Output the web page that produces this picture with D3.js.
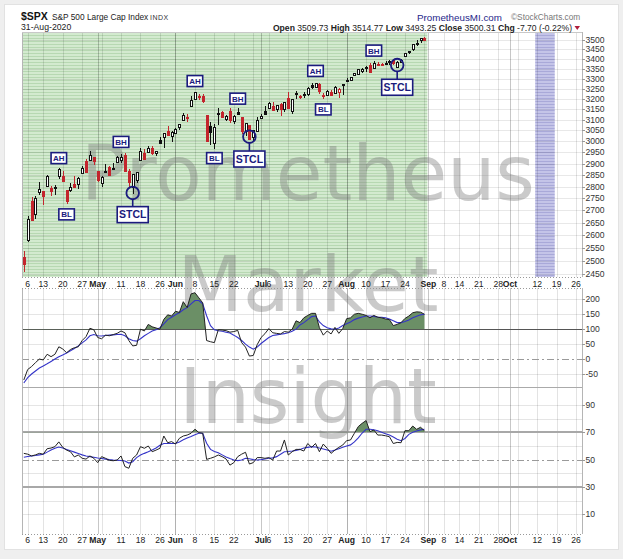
<!DOCTYPE html>
<html><head><meta charset="utf-8">
<script src="https://cdn.jsdelivr.net/npm/d3@7/dist/d3.min.js"></script>
<style>
html,body{margin:0;padding:0;background:#efefef;}
svg{display:block;font-family:"Liberation Sans",Arial,sans-serif;}
</style></head><body>
<svg id="c" width="623" height="559"></svg>
<script>
// ---------------- DATA ----------------
const startDate = "2020-04-03";
const endDate = "2020-08-31";
const prevClose = 2526.90;
const openVals = [2514.92,2578.28,2738.65,2685.00,2776.99,2782.46,2805.10,2795.64,2799.34,2842.43,2845.62,2784.81,2787.89,2810.42,2812.64,2854.65,2909.96,2918.46,2930.91,
2869.09,2815.01,2868.88,2883.14,2878.26,2908.83,2915.46,2939.50,2865.86,2794.54,2829.95,2913.86,2948.59,2953.63,2969.95,2948.05,3004.08,3015.65,3046.61,3025.17,
3038.78,3064.78,3098.90,3111.56,3163.84,3199.92,3213.32,3213.42,3123.53,3071.04,2993.76,3131.00,3136.13,3101.64,3140.29,3094.42,3138.70,3114.40,3046.60,3073.20,3018.59,3050.20,
3105.92,3143.64,3155.29,3166.44,3153.07,3176.17,3152.47,3205.08,3141.11,3225.98,3208.36,3224.21,3224.29,3268.52,3254.86,3271.64,3218.58,3219.84,3234.27,3227.22,3231.76,3270.45,
3288.26,3289.92,3317.37,3323.17,3340.05,3356.04,3370.34,3355.46,3372.95,3368.66,3380.86,3387.04,3392.51,3360.48,3386.01,3418.09,3435.95,3449.97,3485.14,3494.69,3509.73];
const highVals = [2538.18,2676.85,2756.89,2760.75,2818.57,2782.46,2851.85,2801.88,2806.51,2879.22,2868.98,2785.54,2815.10,2844.90,2842.71,2887.72,2921.15,2954.86,2930.91,
2869.09,2844.24,2898.23,2891.11,2901.92,2932.16,2944.25,2945.82,2874.14,2852.80,2865.01,2968.09,2964.21,2980.29,2978.50,2956.76,3021.72,3036.25,3068.67,3049.17,
3062.18,3081.07,3130.94,3128.91,3211.72,3233.13,3222.71,3223.27,3123.53,3088.42,3079.76,3153.45,3141.16,3120.00,3155.53,3120.92,3154.90,3115.01,3086.25,3073.73,3053.89,3111.51,
3128.44,3165.81,3182.59,3184.15,3171.80,3179.78,3186.82,3235.32,3200.95,3238.28,3220.39,3233.52,3258.61,3277.29,3279.32,3279.99,3227.26,3241.43,3243.72,3264.74,3250.92,3272.17,
3302.73,3306.84,3330.77,3351.03,3352.54,3363.29,3381.01,3387.89,3387.24,3378.51,3387.59,3395.06,3399.54,3390.80,3399.96,3432.09,3444.21,3481.07,3501.38,3509.23,3514.77];
const lowVals = [2459.96,2574.57,2657.67,2663.30,2762.36,2721.17,2805.10,2761.54,2764.32,2830.88,2820.43,2727.10,2775.95,2794.26,2791.76,2852.89,2860.71,2912.16,2892.47,
2821.61,2797.85,2863.55,2847.65,2876.48,2902.88,2903.44,2869.59,2793.15,2766.64,2816.78,2913.86,2922.35,2953.63,2938.57,2933.59,2988.17,2969.75,3023.40,2998.61,
3031.54,3051.64,3098.90,3090.41,3163.84,3196.00,3193.11,3181.49,2999.49,2984.47,2965.66,3076.06,3108.03,3093.51,3083.11,3079.39,3127.12,3032.13,3024.01,3004.63,2999.74,3047.83,
3101.17,3124.52,3155.29,3142.93,3136.53,3115.70,3136.22,3149.43,3127.66,3200.76,3198.59,3205.65,3215.16,3247.77,3253.10,3222.66,3200.05,3214.25,3216.17,3227.22,3204.13,3220.26,
3284.53,3286.37,3317.37,3318.14,3328.72,3335.44,3326.44,3355.46,3363.35,3361.64,3379.22,3370.15,3369.66,3354.69,3379.31,3413.13,3425.84,3444.15,3468.35,3484.32,3493.25];
const closeVals = [2488.65,2663.68,2659.41,2749.98,2789.82,2761.63,2846.06,2783.36,2799.55,2874.56,2823.16,2736.56,2799.31,2797.80,2836.74,2878.48,2863.39,2939.51,2912.43,
2830.71,2842.74,2868.44,2848.42,2881.19,2929.80,2930.32,2870.12,2820.00,2852.50,2863.70,2953.91,2922.94,2971.61,2948.51,2955.45,2991.77,3036.13,3029.73,3044.31,
3055.73,3080.82,3122.87,3112.35,3193.93,3232.39,3207.18,3190.14,3002.10,3041.31,3066.59,3124.74,3113.49,3115.34,3097.74,3117.86,3131.29,3050.33,3083.76,3009.05,3053.24,3100.29,
3115.86,3130.01,3179.72,3145.32,3169.94,3152.05,3185.04,3155.22,3197.52,3226.56,3215.57,3224.73,3251.84,3257.30,3276.02,3235.66,3215.63,3239.41,3218.44,3258.44,3246.22,3271.12,
3294.61,3306.51,3327.77,3349.16,3351.28,3360.47,3333.69,3380.35,3373.43,3372.85,3381.99,3389.78,3374.85,3385.51,3397.16,3431.28,3443.62,3478.73,3484.55,3508.01,3500.31];

// middle oscillator (black) and its signal (blue)
const oscVals = [-70,-35,-25,-12,0,-3,16,8,16,41,34,21,32,38,41,62,75,103,98,72,68,80,78,82,86,94,88,62,44,46,100,94,116,108,104,100,133,148,144,160,156,192,172,218,222,205,188,62,58,55,98,97,95,90,92,96,55,40,10,12,48,72,85,102,88,86,84,92,90,100,128,122,138,146,153,153,105,80,94,84,106,86,102,135,138,150,153,150,146,138,146,140,138,134,132,112,116,122,136,144,155,158,157,150];
const oscSignal = [-80,-62,-50,-40,-30,-23,-16,-8,0,8,14,20,28,35,44,54,64,78,82,78,77,79,80,81,82,83,78,68,62,60,68,78,86,94,98,105,118,132,140,148,155,165,172,185,196,196,185,145,112,98,95,93,90,87,80,72,62,50,40,33,40,52,62,72,79,81,83,85,88,93,100,114,122,132,142,144,124,112,105,101,100,104,112,118,124,132,137,141,144,144,143,141,140,138,134,128,122,122,126,131,138,143,148,150];
// lower oscillator (RSI-type) and its signal
const rsiVals = [54.6,54,52.7,53.5,54.6,54,58,58.5,59.5,63,59,57,55.8,52,53.4,51,50.4,52.7,51,47.8,52.2,51,49.5,49.2,49.7,52.7,44.9,43.7,51,53.4,59.5,58.3,60,55.8,57,58.3,67.3,62.4,63.2,61.4,65.6,67.3,68,69.3,72.3,69.8,69.3,50.2,51,52,53.4,52.2,50.5,46,47.8,52.2,54,55.4,46.8,47.8,51.5,51.5,51,51.5,49.7,56.3,56.3,64.4,53.4,55.8,57.5,57.5,56.3,61.8,59,61.8,55.8,61.4,58.3,54.6,57,59,60.7,63.9,64.4,69.3,74.2,76.6,78.6,70.5,71.7,68,68,67.5,66.8,61.8,62.6,62.4,71.2,71.2,74.6,72.2,73.7,71.2];
const rsiSignal = [51.7,52.3,52.7,53,53.5,54,55.5,57,58.3,59.2,58.5,57.5,56.5,55.5,54.5,53.5,52.7,52.2,51.8,51.2,50.8,50.4,50,49.7,49.6,49.4,49,47.5,48.5,51.5,53.4,54.6,55.7,57,58.5,60.5,61.8,61.8,61.8,61.8,63,64.5,65.8,67,68.3,69.3,69.3,62,57.5,56,55,53.5,52,50.8,49.8,49.3,49.8,51,50.6,50,49.7,50,50.5,51,51.3,52.2,54,55.8,56,56.3,56.8,57.5,58.5,59,59.5,59.3,58.5,57.8,57,56.2,57,58,59,60,60.8,63,66,69.5,72.2,72.3,71.9,71.2,70,69,68,66.5,65,63.9,65.5,68.5,70,71,71.8,72.2];

const priceTicks = [3500,3450,3400,3350,3300,3250,3200,3150,3100,3050,3000,2950,2900,2850,2800,2750,2700,2650,2600,2550,2500,2450];
const oscTicks = [200,150,100,50,0,-50];
const rsiTicks = [90,70,50,30,10];
const rsiGrid = [90,80,60,40,20,10];

const xTickDates = ["2020-04-06","2020-04-13","2020-04-20","2020-04-27","2020-05-01","2020-05-11","2020-05-18","2020-05-26","2020-06-01","2020-06-08","2020-06-15","2020-06-22","2020-07-01","2020-07-06","2020-07-13","2020-07-20","2020-07-27","2020-08-03","2020-08-10","2020-08-17","2020-08-24","2020-09-01","2020-09-08","2020-09-14","2020-09-21","2020-09-28","2020-10-01","2020-10-12","2020-10-19","2020-10-26"];
const xTickLabels = ["6","13","20","27","May","11","18","26","Jun","8","15","22","Jul","6","13","20","27","Aug","10","17","24","Sep","8","14","21","28","Oct","12","19","26"];
const holidays = ["2020-04-10","2020-05-25","2020-07-03","2020-09-07"];
const highlightWeek = ["2020-10-12","2020-10-16"];

const labelNames = ["AH","BL","BH","STCL","AH","BL","BH","STCL","AH","BL","BH","STCL"];
const labelDates = ["2020-04-17","2020-04-21","2020-05-11","2020-05-14","2020-06-08","2020-06-15","2020-06-23","2020-06-26","2020-07-22","2020-07-24","2020-08-12","2020-08-20"];
const labelPrices = [2924,2684,2997,2683,3288,2924,3201,2920,3339,3149,3444,3257];
const circleDates = ["2020-05-14","2020-06-26","2020-08-20"];
const circlePrices = [2773,3021,3369];

// ---------------- SETUP ----------------
const calendar = [];
for (let d = new Date(Date.UTC(2020,3,3)); d.getTime() <= Date.UTC(2020,9,30); d.setUTCDate(d.getUTCDate()+1)) {
  const wd = d.getUTCDay(); const s = d.toISOString().slice(0,10);
  if (wd===0 || wd===6 || holidays.includes(s)) continue;
  calendar.push(s);
}
const idx = s => calendar.indexOf(s);
const dates = calendar.slice(idx(startDate), idx(endDate)+1);
const candles = dates.map((d,k)=>({d, o:openVals[k], h:highVals[k], l:lowVals[k], c:closeVals[k]}));

const X0 = 22, X1 = 582;
const P = {top:32, bottom:277};
const M = {top:288, bottom:387};
const L = {top:387, bottom:534};

const x = d3.scaleLinear().domain([idx("2020-04-06"), idx("2020-09-01")]).range([27.7, 428.3]);
const yP = d3.scaleLog().domain([2450,3500]).range([274.3,40]);
const yM = d3.scaleLinear().domain([-50,200]).range([374,299.3]);
const yL = d3.scaleLinear().domain([10,90]).range([514.3,405]);

const svg = d3.select("#c");
const defs = svg.append("defs");
const gp = defs.append("pattern").attr("id","greenStripes").attr("patternUnits","userSpaceOnUse").attr("width",8).attr("height",3);
gp.append("rect").attr("width",8).attr("height",3).attr("fill","#d3eacf");
gp.append("rect").attr("y",2).attr("width",8).attr("height",1).attr("fill","#b7d8b2");
const pp = defs.append("pattern").attr("id","purpleStripes").attr("patternUnits","userSpaceOnUse").attr("width",8).attr("height",3);
pp.append("rect").attr("width",8).attr("height",3).attr("fill","#c4c4e8");
pp.append("rect").attr("y",2).attr("width",8).attr("height",1).attr("fill","#a9a9d9");

// card
svg.append("rect").attr("x",4.5).attr("y",4.5).attr("width",614).attr("height",545).attr("fill","#fff").attr("stroke","#e2e2e2");

// backgrounds
const lastX = x(idx(endDate));
svg.append("rect").attr("x",X0).attr("y",P.top).attr("width",lastX+3-X0).attr("height",P.bottom-P.top).attr("fill","url(#greenStripes)");
svg.append("rect").attr("x",x(idx(highlightWeek[0]))-2).attr("y",P.top).attr("width",x(idx(highlightWeek[1]))-x(idx(highlightWeek[0]))+4).attr("height",P.bottom-P.top).attr("fill","url(#purpleStripes)");

// vertical grid
const weekStarts = [], monthStarts = [];
calendar.forEach((s,k)=>{
  if (k===0) return;
  const prev = calendar[k-1];
  const dd = new Date(s+"T00:00:00Z"), dp = new Date(prev+"T00:00:00Z");
  if ((dd - dp) > 86400000*1.5 || dd.getUTCDay() < dp.getUTCDay()) { if (dd.getUTCDay() <= 2) weekStarts.push(k); }
  if (s.slice(5,7) !== prev.slice(5,7)) monthStarts.push(k);
});
const grid = svg.append("g").attr("shape-rendering","crispEdges");
[P, M, L].forEach(p=>{
  weekStarts.forEach(k=>{
    const xx = Math.round(x(k))+0.5;
    if (xx < X0 || xx > X1) return;
    grid.append("line").attr("x1",xx).attr("x2",xx).attr("y1",p.top).attr("y2",p.bottom).attr("stroke","rgba(0,0,0,0.11)");
  });
  monthStarts.forEach(k=>{
    const xx = Math.round(x(k))+0.5;
    if (xx < X0 || xx > X1) return;
    grid.append("line").attr("x1",xx).attr("x2",xx).attr("y1",p.top).attr("y2",p.bottom).attr("stroke","rgba(0,0,0,0.22)");
  });
});
priceTicks.forEach(v=>{
  const yy = Math.round(yP(v))+0.5;
  grid.append("line").attr("x1",X0).attr("x2",X1).attr("y1",yy).attr("y2",yy).attr("stroke","rgba(0,0,0,0.09)");
});
oscTicks.filter(v=>v!==100 && v!==0).forEach(v=>{
  const yy = Math.round(yM(v))+0.5;
  grid.append("line").attr("x1",X0).attr("x2",X1).attr("y1",yy).attr("y2",yy).attr("stroke","rgba(0,0,0,0.1)");
});
rsiGrid.forEach(v=>{
  const yy = Math.round(yL(v))+0.5;
  grid.append("line").attr("x1",X0).attr("x2",X1).attr("y1",yy).attr("y2",yy).attr("stroke","rgba(0,0,0,0.1)");
});
// reference lines
const refLine = (yy, stroke, w, dash) => {
  const l = grid.append("line").attr("x1",X0).attr("x2",X1).attr("y1",yy).attr("y2",yy).attr("stroke",stroke).attr("stroke-width",w);
  if (dash) l.attr("stroke-dasharray",dash);
};
refLine(Math.round(yM(0))+0.5, "#9a9a9a", 1, "7,3,2,3");
refLine(Math.round(yL(50))+0.5, "#9a9a9a", 1, "7,3,2,3");
refLine(Math.round(yL(70)), "#a8a8a8", 2);
refLine(Math.round(yL(30)), "#a8a8a8", 2);

// watermark
const wm = svg.append("g").attr("font-family","'DejaVu Sans',Verdana,sans-serif").attr("font-size",76).attr("fill","#7a7a7a").attr("fill-opacity",0.4).attr("text-anchor","middle");
[["Prometheus",200],["Market",311],["Insight",423]].forEach(([t,b])=>wm.append("text").attr("x",308).attr("y",b).text(t));

// middle panel: fill above 100, lines
const xi = (d,k)=>x(idx(startDate)+k);
defs.append("clipPath").attr("id","clipM").append("rect").attr("x",X0).attr("y",M.top).attr("width",X1-X0).attr("height",yM(100)-M.top);
defs.append("clipPath").attr("id","clipL").append("rect").attr("x",X0).attr("y",L.top).attr("width",X1-X0).attr("height",yL(70)-L.top);
svg.append("path").datum(oscVals).attr("clip-path","url(#clipM)")
  .attr("d", d3.area().x(xi).y0(yM(100)).y1(d=>yM(d))).attr("fill","#6b8f66");
refLine(Math.round(yM(100))+0.5, "#555", 1.2);
svg.append("path").datum(oscSignal).attr("d", d3.line().x(xi).y(d=>yM(d))).attr("fill","none").attr("stroke","#3434c8").attr("stroke-width",1.1);
svg.append("path").datum(oscVals).attr("d", d3.line().x(xi).y(d=>yM(d))).attr("fill","none").attr("stroke","#222").attr("stroke-width",1);

svg.append("path").datum(rsiVals).attr("clip-path","url(#clipL)")
  .attr("d", d3.area().x(xi).y0(yL(70)).y1(d=>yL(d))).attr("fill","#6b8f66");
svg.append("path").datum(rsiSignal).attr("d", d3.line().x(xi).y(d=>yL(d))).attr("fill","none").attr("stroke","#3434c8").attr("stroke-width",1.1);
svg.append("path").datum(rsiVals).attr("d", d3.line().x(xi).y(d=>yL(d))).attr("fill","none").attr("stroke","#222").attr("stroke-width",1);

// candles
const cg = svg.append("g").attr("shape-rendering","crispEdges");
candles.forEach((d,k)=>{
  const prev = k===0 ? prevClose : candles[k-1].c;
  const col = d.c >= prev ? "#111" : "#c3252d";
  const filled = d.c < d.o;
  const cx = Math.round(x(idx(d.d)));
  cg.append("line").attr("x1",cx+0.5).attr("x2",cx+0.5).attr("y1",yP(d.h)).attr("y2",yP(d.l)).attr("stroke",col);
  const yt = yP(Math.max(d.o,d.c)), yb = yP(Math.min(d.o,d.c));
  cg.append("rect").attr("x",cx-1+0.5).attr("y",Math.round(yt)+0.5).attr("width",2).attr("height",Math.max(1,Math.round(yb-yt)))
    .attr("fill", filled ? col : "#fff").attr("stroke",col);
});

// panel frames
const fr = svg.append("g").attr("shape-rendering","crispEdges").attr("fill","none");
[P,M,L].forEach(p=>{
  fr.append("line").attr("x1",X0+0.5).attr("x2",X0+0.5).attr("y1",p.top).attr("y2",p.bottom).attr("stroke","#b5b5b5");
  fr.append("line").attr("x1",X1+0.5).attr("x2",X1+0.5).attr("y1",p.top).attr("y2",p.bottom).attr("stroke","#b5b5b5");
});
fr.append("line").attr("x1",X0).attr("x2",X1).attr("y1",P.top+0.5).attr("y2",P.top+0.5).attr("stroke","#c8c8c8");
fr.append("line").attr("x1",X0).attr("x2",X1).attr("y1",P.bottom+0.5).attr("y2",P.bottom+0.5).attr("stroke","#999").attr("stroke-dasharray","1,2");
fr.append("line").attr("x1",X0).attr("x2",X1).attr("y1",M.top+0.5).attr("y2",M.top+0.5).attr("stroke","#999").attr("stroke-dasharray","1,2");
fr.append("line").attr("x1",X0).attr("x2",X1).attr("y1",M.bottom+0.5).attr("y2",M.bottom+0.5).attr("stroke","#aaa");
fr.append("line").attr("x1",X0).attr("x2",X1).attr("y1",L.bottom+0.5).attr("y2",L.bottom+0.5).attr("stroke","#999").attr("stroke-dasharray","1,2");

// right axes
const axisText = (yy, t) => {
  svg.append("line").attr("x1",X1).attr("x2",X1+3).attr("y1",Math.round(yy)+0.5).attr("y2",Math.round(yy)+0.5).attr("stroke","#999");
  svg.append("text").attr("x",X1+3.5).attr("y",yy+3).attr("font-size",8.6).attr("fill","#333").text(t);
};
priceTicks.forEach(v=>axisText(yP(v), v));
oscTicks.forEach(v=>axisText(yM(v), v));
rsiTicks.forEach(v=>axisText(yL(v), v));

// x labels
[286.5, 542.5].forEach(by=>{
  xTickDates.forEach((s,k)=>{
    const lab = xTickLabels[k];
    const bold = isNaN(+lab);
    svg.append("text").attr("x",x(idx(s))).attr("y",by).attr("text-anchor","middle")
      .attr("font-size",8.6).attr("font-weight",bold?"bold":"normal").attr("fill","#222").text(lab);
  });
});

// annotations
const navy = "#1b1b7e";
const ag = svg.append("g");
circleDates.forEach((s,k)=>{
  ag.append("circle").attr("cx",x(idx(s))).attr("cy",yP(circlePrices[k])).attr("r",6.3).attr("fill","none").attr("stroke",navy).attr("stroke-width",1.8);
});
labelNames.forEach((t,k)=>{
  const cx = x(idx(labelDates[k])), cy = yP(labelPrices[k]);
  const big = t==="STCL";
  const w = big?31:15.5, h = big?16:11;
  if (big) {
    const ci = circleDates.indexOf(labelDates[k]);
    const ccy = yP(circlePrices[ci]);
    ag.append("line").attr("x1",cx).attr("x2",cx).attr("y1",ccy+6.3).attr("y2",cy-h/2).attr("stroke",navy).attr("stroke-width",1.6);
  }
  ag.append("rect").attr("x",cx-w/2).attr("y",cy-h/2).attr("width",w).attr("height",h).attr("fill","#fff").attr("stroke",navy).attr("stroke-width",1.6);
  ag.append("text").attr("x",cx).attr("y",cy+(big?3.8:3)).attr("text-anchor","middle").attr("font-size",big?10.5:8)
    .attr("font-weight","bold").attr("fill",navy).text(t);
});

// header
svg.append("text").attr("x",21).attr("y",19.5).attr("font-size",10.5).attr("font-weight","bold").attr("fill","#111").text("$SPX");
svg.append("text").attr("x",52).attr("y",19.5).attr("font-size",8.3).attr("fill","#222").text("S&P 500 Large Cap Index");
svg.append("text").attr("x",150).attr("y",19.5).attr("font-size",7).attr("fill","#333").attr("letter-spacing",0.5).text("INDX");
svg.append("text").attr("x",21).attr("y",30).attr("font-size",8.7).attr("fill","#222").text("31-Aug-2020");
svg.append("text").attr("x",417).attr("y",20.5).attr("font-size",9.8).attr("fill","#26268a").text("PrometheusMI.com");
svg.append("text").attr("x",511).attr("y",20).attr("font-size",8.3).attr("fill","#777").text("\u00A9StockCharts.com");
const hdr = svg.append("text").attr("x",572).attr("y",30.5).attr("text-anchor","end").attr("font-size",8.6).attr("fill","#222");
[["Open",true],[" 3509.73 ",false],["High",true],[" 3514.77 ",false],["Low",true],[" 3493.25 ",false],["Close",true],[" 3500.31 ",false],["Chg",true],[" -7.70 (-0.22%)",false]]
  .forEach(([t,b])=>hdr.append("tspan").attr("font-weight",b?"bold":"normal").attr("xml:space","preserve").text(t));
svg.append("path").attr("d","M574.5,26 L580,26 L577.25,30 Z").attr("fill","#b01e3c");
</script>
</body></html>
